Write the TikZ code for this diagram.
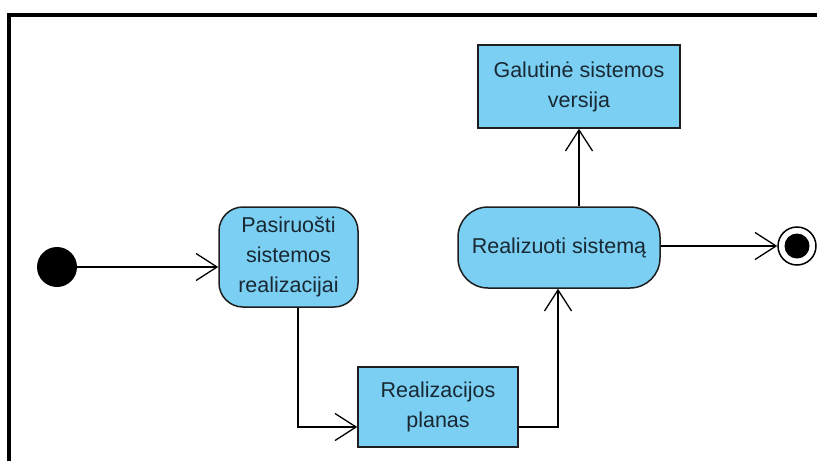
\documentclass[tikz,border=0pt]{standalone}
\usepackage{fontspec}
\setmainfont{Liberation Sans}
\usetikzlibrary{arrows.meta}
\definecolor{actfill}{RGB}{122,207,243}
\definecolor{actline}{RGB}{30,30,30}
\definecolor{acttext}{RGB}{25,40,50}
\tikzset{
  action/.style={draw=actline, fill=actfill, line width=1.5pt, rounded corners=24pt,
    align=center, inner sep=0pt, text=acttext, font=\fontsize{21.5}{30}\selectfont},
  artifact/.style={draw=actline, fill=actfill, line width=1.5pt,
    align=center, inner sep=0pt, text=acttext, font=\fontsize{21.5}{30}\selectfont},
  flow/.style={draw=black, line width=1.3pt,
    -{Straight Barb[length=21pt, width=27pt, line width=1.3pt]}},
}
\begin{document}
\begin{tikzpicture}[x=1pt, y=-1pt]
\useasboundingbox (0,0) rectangle (817,461);
% diagram frame (only top and left edges are in view)
\draw[line width=4pt] (9,461) -- (9,15) -- (817,15);

% initial and final states
\node[circle, fill=black, minimum size=40pt, inner sep=0pt] (init) at (57,267) {};
\node[circle, draw=black, line width=1.5pt, fill=white, minimum size=38pt, inner sep=0pt] (final) at (797,246) {};
\fill[black] (final.center) circle (12.5pt);

% actions
\node[action, minimum width=139pt, minimum height=100pt] (prep) at (288.5,257)
  {Pasiruošti\\sistemos\\realizacijai};
\node[action, rounded corners=30pt, minimum width=202pt, minimum height=81pt] (impl) at (559,247.5)
  {Realizuoti sistemą};

% object nodes
\node[artifact, minimum width=160pt, minimum height=80pt] (plan) at (438,407)
  {Realizacijos\\planas};
\node[artifact, minimum width=202pt, minimum height=83pt] (ver) at (579,86.5)
  {Galutinė sistemos\\versija};

% routing points for the elbow connectors
\coordinate (bendA) at (298,427);
\coordinate (bendB) at (558,427);

% control flows
\draw[flow] (init) -- (init -| prep.west);
\draw[flow] (prep.south -| bendA) |- (plan.west |- bendA);
\draw[flow] (plan.east |- bendB) -| (impl.south -| bendB);
\draw[flow] (impl.north -| ver.south) -- (ver.south);
\draw[flow] (impl.east |- final) -- (final.west);
\end{tikzpicture}
\end{document}
